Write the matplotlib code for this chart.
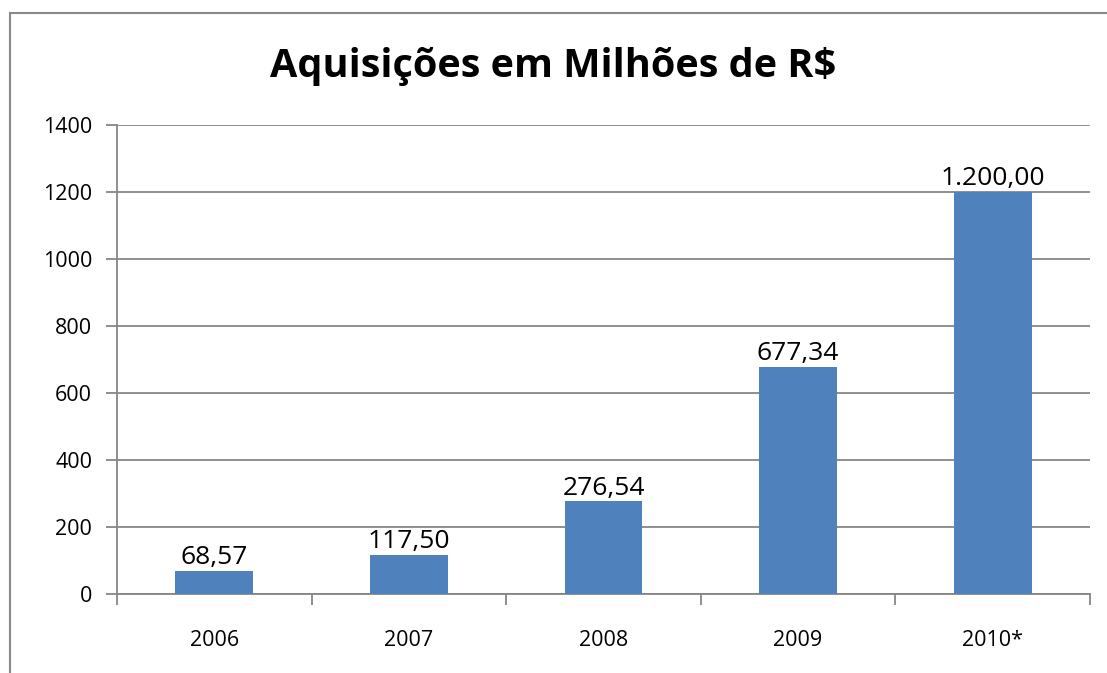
import matplotlib
matplotlib.use('Agg')
import matplotlib.pyplot as plt
from matplotlib.patches import Rectangle

# Data
years = ['2006', '2007', '2008', '2009', '2010*']
values = [68.57, 117.50, 276.54, 677.34, 1200.00]
value_labels = ['68,57', '117,50', '276,54', '677,34', '1.200,00']
yticks = [0, 200, 400, 600, 800, 1000, 1200, 1400]

plt.rcParams['font.family'] = ['Open Sans', 'DejaVu Sans']

W, H = 1107, 673
fig = plt.figure(figsize=(W / 100, H / 100), dpi=100)
fig.patch.set_facecolor('white')

# Plot area in pixel coords
left, right, top, bottom = 117, 1090, 125, 594
ax = fig.add_axes([left / W, 1 - bottom / H, (right - left) / W, (bottom - top) / H])

grid_color = '#868686'
x = list(range(len(years)))
ax.bar(x, values, width=0.4, color='#4F81BD', zorder=3)
ax.set_xlim(-0.5, len(years) - 0.5)
ax.set_ylim(0, 1400)
ax.set_yticks(yticks)
ax.set_yticklabels([str(t) for t in yticks], fontsize=15.5)
ax.yaxis.grid(True, color=grid_color, linewidth=1.3, zorder=0)

# category labels centered, ticks on category boundaries
ax.set_xticks(x)
ax.set_xticklabels(years, fontsize=15.5)
ax.tick_params(axis='x', length=0, pad=26)
ax.set_xticks([i - 0.5 for i in range(len(years) + 1)], minor=True)
ax.tick_params(axis='x', which='minor', length=8, width=1.3, color=grid_color, direction='out')
ax.tick_params(axis='y', length=8, width=1.3, color=grid_color, direction='out', pad=10)

for side in ['top', 'right']:
    ax.spines[side].set_visible(False)
for side in ['left', 'bottom']:
    ax.spines[side].set_color(grid_color)
    ax.spines[side].set_linewidth(1.3)

for xi, v, lab in zip(x, values, value_labels):
    ax.text(xi, v + 20, lab, ha='center', va='baseline', fontsize=19)

fig.text(553 / W, 1 - 77 / H, 'Aquisições em Milhões de R$', ha='center', va='baseline',
         fontsize=28.5, fontweight='bold')

# chart frame, cut off at right and bottom
fig.patches.append(Rectangle((9.5 / W, -0.1), 1.2, 1 - 12.5 / H + 0.1,
                             transform=fig.transFigure, fill=False,
                             edgecolor='#898989', linewidth=1.5))

fig.savefig('out.png', dpi=100)
